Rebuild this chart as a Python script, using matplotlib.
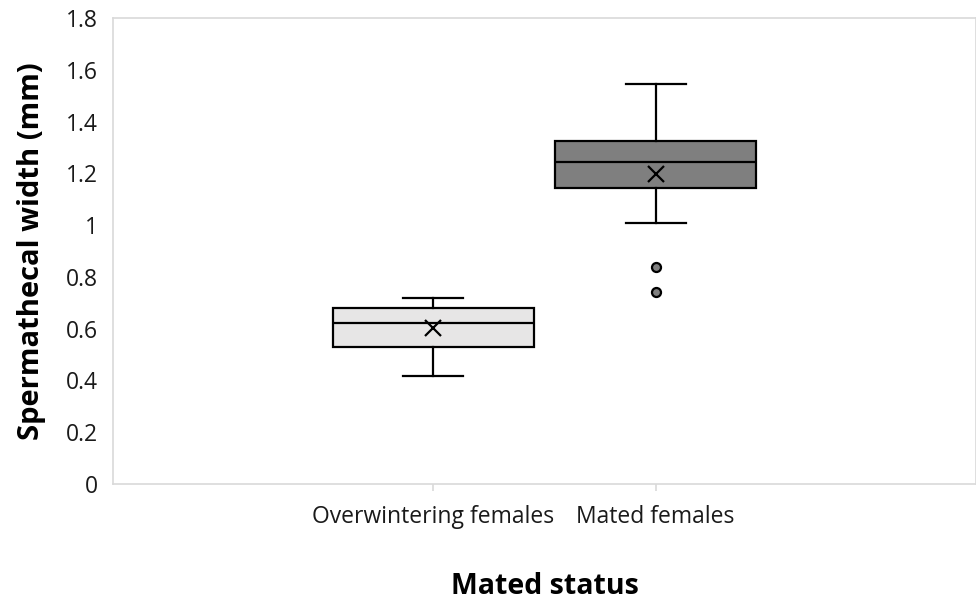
import matplotlib
matplotlib.use("Agg")
import matplotlib.pyplot as plt

# values
groups = ["Overwintering females", "Mated females"]
whisker_low = [0.418, 1.007]
q1 = [0.528, 1.144]
median = [0.623, 1.245]
q3 = [0.679, 1.326]
whisker_high = [0.720, 1.544]
mean = [0.601, 1.197]
outliers = [[], [0.837, 0.743]]
box_colors = ["#e7e6e6", "#7f7f7f"]

plt.rcParams['font.family'] = ['Open Sans', 'DejaVu Sans']

stats = []
for i, name in enumerate(groups):
    stats.append(dict(label=name, whislo=whisker_low[i], q1=q1[i], med=median[i],
                      q3=q3[i], whishi=whisker_high[i], mean=mean[i], fliers=outliers[i]))

fig = plt.figure(figsize=(9.76, 6.04), dpi=100)
ax = fig.add_axes([0.1158, 0.1987, 0.8842, 0.7715])

pos = [1, 2]
bp = ax.bxp(stats, positions=pos, widths=0.905, patch_artist=True, showmeans=True,
            whiskerprops=dict(color="black", lw=1.6),
            capprops=dict(color="black", lw=1.6),
            medianprops=dict(color="black", lw=1.6),
            boxprops=dict(edgecolor="black", lw=1.6),
            meanprops=dict(marker="x", markeredgecolor="black", markersize=12, markeredgewidth=1.6),
            flierprops=dict(marker="o", markerfacecolor="#7f7f7f", markeredgecolor="black",
                            markersize=6.5, markeredgewidth=1.6))
for patch, c in zip(bp["boxes"], box_colors):
    patch.set_facecolor(c)
for cap in bp["caps"]:
    x = cap.get_xdata()
    mid = (x[0] + x[1]) / 2
    cap.set_xdata([mid - 0.135, mid + 0.135])

ax.set_xlim(1 - 1.441, 2 + 1.441)
ax.set_ylim(0, 1.8)
ax.set_yticks([0, 0.2, 0.4, 0.6, 0.8, 1.0, 1.2, 1.4, 1.6, 1.8])
ax.set_yticklabels(["0", "0.2", "0.4", "0.6", "0.8", "1", "1.2", "1.4", "1.6", "1.8"])
ax.set_xticks(pos)
ax.set_xticklabels(groups)

for s in ax.spines.values():
    s.set_color("#d9d9d9")
    s.set_linewidth(1.2)
ax.tick_params(axis="y", length=0, pad=11, labelsize=16.5, labelcolor="#1a1a1a")
ax.tick_params(axis="x", length=5, width=1.2, color="#d9d9d9", pad=10, labelsize=16.5, labelcolor="#1a1a1a")

ax.set_ylabel("Spermathecal width (mm)", fontsize=21, fontweight="bold", labelpad=14)
ax.set_xlabel("Mated status", fontsize=20.5, fontweight="bold", labelpad=31)

fig.savefig("out.png", dpi=100)
